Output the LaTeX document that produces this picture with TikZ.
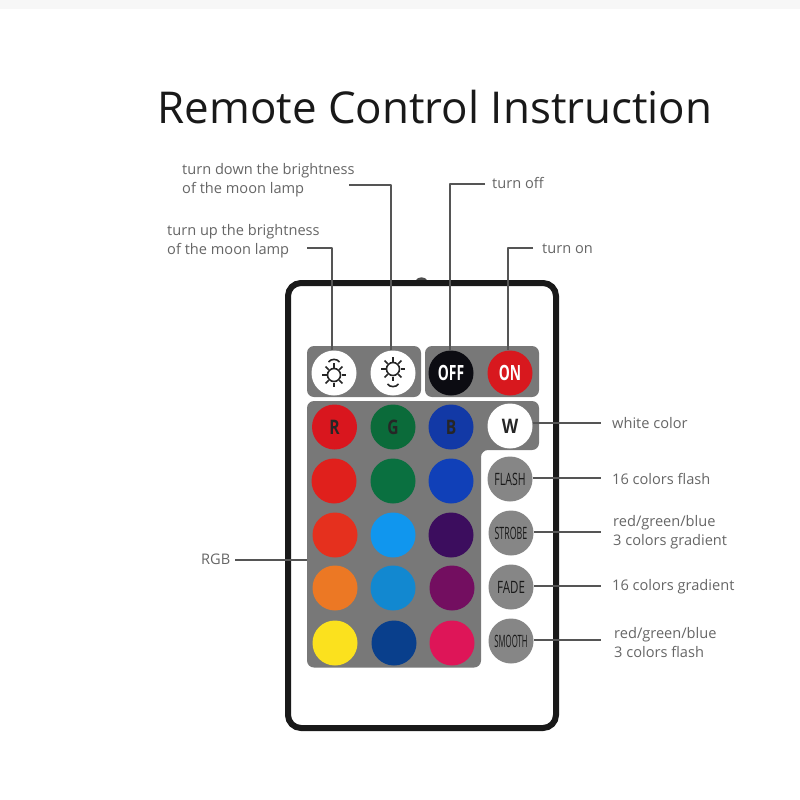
\documentclass[tikz,border=0pt]{standalone}
\usepackage{fontspec}
\usepackage{graphicx}
\setmainfont{Open Sans}
\definecolor{panel}{HTML}{787878}
\definecolor{lead}{HTML}{555555}
\definecolor{lab}{HTML}{666666}
\definecolor{cR}{HTML}{D9161E}
\definecolor{cG}{HTML}{0B6B3A}
\definecolor{cB}{HTML}{1239A6}
\definecolor{cOn}{HTML}{D8181E}
\definecolor{cOff}{HTML}{0C0C12}
\definecolor{r2}{HTML}{E0201C}
\definecolor{g2}{HTML}{0A7040}
\definecolor{b2}{HTML}{1040B8}
\definecolor{r3}{HTML}{E5301E}
\definecolor{g3}{HTML}{1096EE}
\definecolor{b3}{HTML}{3C0D5E}
\definecolor{r4}{HTML}{EC7824}
\definecolor{g4}{HTML}{1288D0}
\definecolor{b4}{HTML}{730E60}
\definecolor{r5}{HTML}{FBE11E}
\definecolor{g5}{HTML}{093F8C}
\definecolor{b5}{HTML}{DE1558}
\definecolor{gbtn}{HTML}{868686}
\tikzset{
  btn/.style={circle,minimum size=45pt,inner sep=0pt,fill=#1},
  panelbox/.style={fill=panel},
  leader/.style={draw=lead,line width=1.5pt,line join=round},
  lbl/.style={font=\fontsize{14.6}{19}\selectfont,text=lab,anchor=west,align=left,inner sep=0pt},
  sunline/.style={draw=black!85,line width=1.6pt},
}
\newcommand{\cond}[2]{\scalebox{#1}[1]{#2}}
\newcommand{\wkey}[1]{\textcolor{white}{\fontsize{21}{21}\selectfont\bfseries\cond{0.66}{#1}}}
\newcommand{\dkey}[1]{\textcolor{black!85}{\fontsize{20}{20}\selectfont\bfseries\cond{0.78}{#1}}}
\newcommand{\gkey}[2]{\textcolor{black!90}{\fontsize{17}{17}\selectfont\cond{#1}{#2}}}
\newcommand{\sunicon}[2]{%
  \draw[sunline] (#1,#2) circle (6.5);
  \foreach \a in {0,45,...,315}{\draw[sunline] (#1,#2) ++(\a:7.5) -- ++(\a:4.5);}
}
\begin{document}
\begin{tikzpicture}[x=1pt,y=-1pt]
\useasboundingbox (0,0) rectangle (800,800);
\fill[white] (0,0) rectangle (800,800);
\fill[black!3] (0,0) rectangle (800,9);

\node[font=\fontsize{43.9}{44}\selectfont,text=black!90,inner sep=0pt] (title) at (435,107) {Remote Control Instruction};

% remote body
\fill[black!70] (415,281) .. controls (418,276) and (425,276) .. (428,281) -- cycle;
\draw[black!90,line width=6pt,rounded corners=13pt,fill=white] (288,283) rectangle (556,728);

% panels
\fill[panelbox,rounded corners=7pt] (307,346) rectangle (421,397);
\fill[panelbox,rounded corners=7pt] (425,346) rectangle (539,397);
\fill[panelbox,rounded corners=7pt] (307,401) -- (539,401) -- (539,450) -- (481,450) -- (481,667.5) -- (307,667.5) -- cycle;

% buttons
\node[btn=white] (up) at (334,373) {};
\node[btn=white] (down) at (393,373) {};
\node[btn=cOff] (off) at (451,373) {\wkey{OFF}};
\node[btn=cOn] (on) at (510,373) {\wkey{ON}};
\node[btn=cR] (r1) at (334.5,427) {\dkey{R}};
\node[btn=cG] (g1) at (393,427) {\dkey{G}};
\node[btn=cB] (b1) at (451,427) {\dkey{B}};
\node[btn=white] (w) at (510,426) {\textcolor{black!85}{\fontsize{20}{20}\selectfont\bfseries\cond{0.85}{W}}};
\node[btn=r2] (r2n) at (334,481) {};
\node[btn=g2] (g2n) at (393,481) {};
\node[btn=b2] (b2n) at (451,481) {};
\node[btn=r3] (r3n) at (335,535) {};
\node[btn=g3] (g3n) at (393,535) {};
\node[btn=b3] (b3n) at (451,535) {};
\node[btn=r4] (r4n) at (335,588) {};
\node[btn=g4] (g4n) at (393,588) {};
\node[btn=b4] (b4n) at (452,588) {};
\node[btn=r5] (r5n) at (335,643) {};
\node[btn=g5] (g5n) at (394,643) {};
\node[btn=b5] (b5n) at (452,643) {};
\node[btn=gbtn] (flash) at (510,479) {\gkey{0.62}{FLASH}};
\node[btn=gbtn] (strobe) at (511,533) {\gkey{0.52}{STROBE}};
\node[btn=gbtn] (fade) at (511,587) {\gkey{0.68}{FADE}};
\node[btn=gbtn] (smooth) at (511,641) {\gkey{0.46}{SMOOTH}};

% sun icons
\sunicon{334}{375}
\draw[sunline] (328.5,362) .. controls (331,358.5) and (337,358.5) .. (339.5,362);
\sunicon{393}{369}
\draw[sunline] (387.5,384) .. controls (390,387.5) and (396,387.5) .. (398.5,384);

% labels
\node[lbl] (tUp) at (167,241) {turn up the brightness\\of the moon lamp};
\node[lbl] (tDown) at (182,180.5) {turn down the brightness\\of the moon lamp};
\node[lbl] (tOff) at (492,182.5) {turn off};
\node[lbl] (tOn) at (542,248.5) {turn on};
\node[lbl] (tW) at (612,423.5) {white color};
\node[lbl] (tFlash) at (612,478.5) {16 colors flash};
\node[lbl] (tStrobe) at (613,532.5) {red/green/blue\\3 colors gradient};
\node[lbl] (tFade) at (612,586.5) {16 colors gradient};
\node[lbl] (tSmooth) at (614,642.5) {red/green/blue\\3 colors flash};
\node[lbl] (tRGB) at (201,559.5) {RGB};

% free ends of the leaders
\coordinate (cUp) at (307,248);
\coordinate (cDown) at (349,185);
\coordinate (cOffEnd) at (485,184);
\coordinate (cOnEnd) at (533,248);
\coordinate (cW) at (601,423);
\coordinate (cFlash) at (601,478);
\coordinate (cStrobe) at (601,532);
\coordinate (cFade) at (601,586);
\coordinate (cSmooth) at (601,640);
\coordinate (cRGB) at (235,560);
\coordinate (cPanel) at (307,560);

% leaders
\draw[leader] (cUp) -| (up.95);
\draw[leader] (cDown) -| (down.95);
\draw[leader] (cOffEnd) -| (off.93);
\draw[leader] (cOnEnd) -| (on.95);
\draw[leader] (w.east |- cW) -- (cW);
\draw[leader] (flash.east |- cFlash) -- (cFlash);
\draw[leader] (strobe.east |- cStrobe) -- (cStrobe);
\draw[leader] (fade.east |- cFade) -- (cFade);
\draw[leader] (smooth.east |- cSmooth) -- (cSmooth);
\draw[leader] (cRGB) -- (cPanel);
\end{tikzpicture}
\end{document}
